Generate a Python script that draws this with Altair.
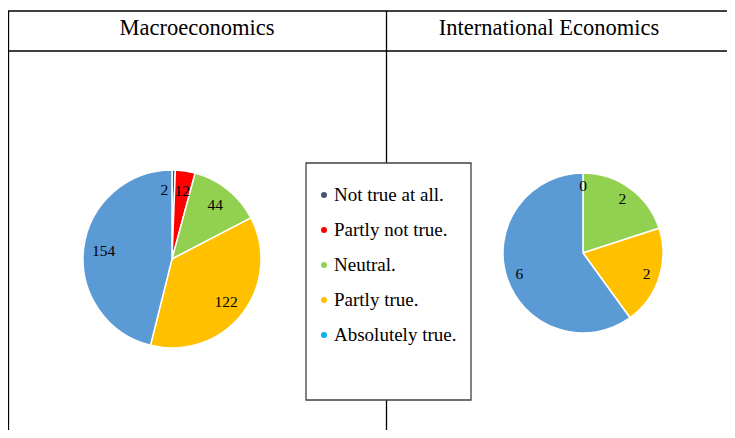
import altair as alt
import pandas as pd

categories = ["Not true at all.", "Partly not true.", "Neutral.", "Partly true.", "Absolutely true."]
macro_values = [2, 12, 44, 122, 154]
intl_values = [0, 0, 2, 2, 6]
pie_colors = ["#44546A", "#FF0000", "#92D050", "#FFC000", "#5B9BD5"]
legend_colors = ["#44546A", "#FF0000", "#92D050", "#FFC000", "#00B0F0"]
titles = ["Macroeconomics", "International Economics"]

FONT = "Liberation Serif"
W, H = 719, 422

one = alt.Data(values=[{}])


def rule(x1, y1, x2, y2, color="black", width=1.3):
    return alt.Chart(one).mark_rule(color=color, strokeWidth=width).encode(
        x=alt.value(x1), y=alt.value(y1), x2=alt.value(x2), y2=alt.value(y2)
    )


def pie(values, cx, cy, r, label_r, shift_first=0):
    df = pd.DataFrame({"category": categories, "value": values, "idx": list(range(len(categories)))})
    base = alt.Chart(df).encode(
        theta=alt.Theta("value:Q", stack=True),
        order=alt.Order("idx:Q"),
        x=alt.value(cx),
        y=alt.value(cy),
    )
    arc = base.mark_arc(radius=r, stroke="white", strokeWidth=1.5).encode(
        color=alt.Color("category:N", scale=alt.Scale(domain=categories, range=pie_colors), legend=None)
    )
    txt_first = base.mark_text(radius=label_r, font=FONT, fontSize=15.5, color="black", dx=shift_first).encode(
        text=alt.condition("datum.idx == 0", alt.Text("value:Q"), alt.value(""))
    )
    txt_rest = base.mark_text(radius=label_r, font=FONT, fontSize=15.5, color="black").encode(
        text=alt.condition("datum.idx > 0 && datum.value > 0", alt.Text("value:Q"), alt.value(""))
    )
    return alt.layer(arc, txt_first, txt_rest)


macro = pie(macro_values, 164, 251, 89, 69, shift_first=-9)
intl = pie(intl_values, 575, 245, 80, 67)
pies = alt.layer(macro, intl).resolve_scale(theta="independent")

# table lines
lines = alt.layer(
    rule(0, 3, W, 3),
    rule(0, 43, W, 43),
    rule(0.5, 3, 0.5, H),
    rule(378.5, 3, 378.5, H),
)

head_df = pd.DataFrame({"title": titles})
headers = alt.Chart(head_df).mark_text(font=FONT, fontSize=22.5, color="black", baseline="middle").encode(
    x=alt.X("title:N", sort=titles, scale=alt.Scale(type="point", range=[189, 541], padding=0), axis=None),
    y=alt.value(20),
    text="title:N",
)

legend_box = alt.Chart(one).mark_rect(fill="white", stroke="#404040", strokeWidth=1.3).encode(
    x=alt.value(298), x2=alt.value(463), y=alt.value(155), y2=alt.value(392)
)

leg_df = pd.DataFrame({"category": categories, "color": legend_colors})
leg_y = alt.Y("category:N", sort=categories, scale=alt.Scale(type="point", range=[187, 327], padding=0), axis=None)
leg_dots = alt.Chart(leg_df).mark_circle(size=36, opacity=1).encode(
    x=alt.value(316), y=leg_y, color=alt.Color("color:N", scale=None)
)
leg_text = alt.Chart(leg_df).mark_text(font=FONT, fontSize=19, color="black", align="left", baseline="middle").encode(
    x=alt.value(326), y=leg_y, text="category:N"
)

chart = alt.layer(lines, headers, pies, legend_box, leg_dots, leg_text).resolve_scale(
    y="independent", x="independent", color="independent"
).properties(
    width=W, height=H, padding=0, autosize=alt.AutoSizeParams(type="none")
).configure_view(stroke=None)

chart.save("out.html", embed_options={"renderer": "svg", "actions": False})
